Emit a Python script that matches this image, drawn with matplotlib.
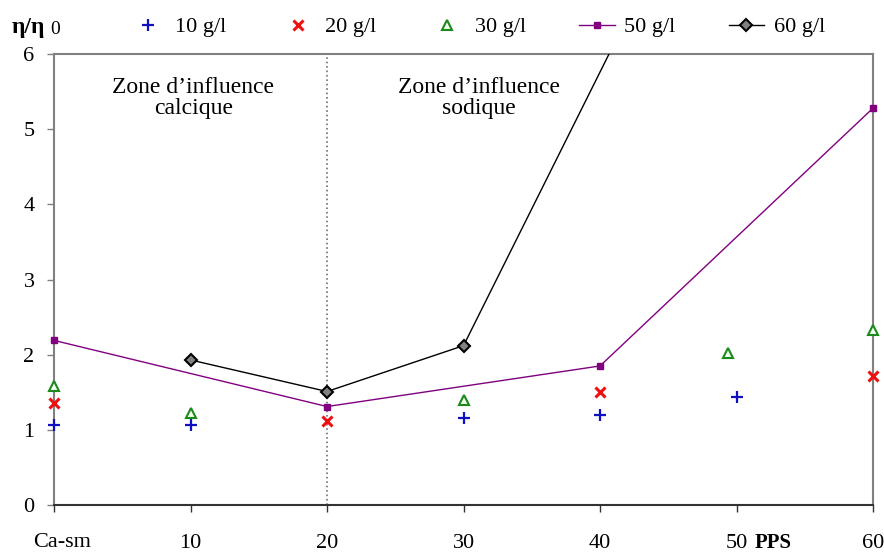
import matplotlib
matplotlib.use("Agg")
import matplotlib.pyplot as plt

plt.rcParams['font.family'] = ['Liberation Serif', 'DejaVu Serif']

# Data
x10 = [0, 10, 30, 40, 50]
y10 = [1.06, 1.07, 1.16, 1.20, 1.44]
x20 = [0, 20, 40, 60]
y20 = [1.36, 1.12, 1.51, 1.72]
x30 = [0, 10, 30, 49.4, 60]
y30 = [1.58, 1.22, 1.40, 2.02, 2.33]
x50 = [0, 20, 40, 60]
y50 = [2.19, 1.31, 1.85, 5.28]
x60 = [10, 20, 30, 50]
y60 = [1.93, 1.51, 2.12, 9.4]

xticks = [0, 10, 20, 30, 40, 50, 60]
xticklabels = ["", "10", "20", "30", "40", "50", "60"]
yticks = [0, 1, 2, 3, 4, 5, 6]

fig = plt.figure(figsize=(8.84, 5.52), dpi=100)
ax = fig.add_axes([0.0611, 0.0851, 0.9265, 0.8171])

ax.plot(x10, y10, linestyle='none', marker='+', color='#1010c0', markersize=8, markeredgewidth=1.6, label='10 g/l', clip_on=False, zorder=4)
ax.plot(x20, y20, linestyle='none', marker='x', color='#ee1111', markersize=6.5, markeredgewidth=2.2, label='20 g/l', clip_on=False, zorder=4)
ax.plot(x30, y30, linestyle='none', marker='^', markerfacecolor='#f4fff0', markeredgecolor='#1a8a1a', markersize=7.5, markeredgewidth=1.5, label='30 g/l', clip_on=False, zorder=4)
ax.plot(x50, y50, color='#800080', linewidth=1.0, marker='s', markersize=4.8, markerfacecolor='#800080', markeredgecolor='#800080', label='50 g/l', clip_on=False, zorder=3)
ax.plot(x60, y60, color='black', linewidth=1.0, marker='D', markersize=6.5, markerfacecolor='#808080', markeredgecolor='black', markeredgewidth=1.5, label='60 g/l', zorder=3)

ax.axvline(20, color='#707070', linestyle=':', linewidth=1.2, zorder=1)

ax.set_xlim(0, 60)
ax.set_ylim(0, 6)
ax.set_xticks(xticks)
ax.set_xticklabels(xticklabels)
ax.set_yticks(yticks)

for s in ['left', 'right', 'top']:
    ax.spines[s].set_color('#808080')
    ax.spines[s].set_linewidth(1.5)
ax.spines['bottom'].set_color('#333333')
ax.spines['bottom'].set_linewidth(1.5)

ax.tick_params(axis='x', direction='out', length=5, width=1, colors='#333333', pad=16, labelsize=16, labelcolor='black')
ax.tick_params(axis='y', direction='out', length=5, width=1, colors='#808080', pad=9, labelsize=16, labelcolor='black')

tr = ax.get_xaxis_transform()
ax.text(0.6, -0.061, "Ca-sm", transform=tr, ha='center', va='top', fontsize=16)
ax.text(51.35, -0.061, "PPS", transform=tr, ha='left', va='top', fontsize=15, fontweight='bold')

ax.text(10.2, 5.41, "Zone d\u2019influence\ncalcique", ha='center', va='center', fontsize=17, linespacing=1.0)
ax.text(31.1, 5.41, "Zone d\u2019influence\nsodique", ha='center', va='center', fontsize=17, linespacing=1.0)

fig.text(0.013, 0.951, "\u03b7/\u03b7", ha='left', va='center', fontsize=17, fontweight='bold')
fig.text(0.0565, 0.947, "0", ha='left', va='center', fontsize=14)

fig.legend(loc='center left', bbox_to_anchor=(0.1245, 0.951), ncol=5, frameon=False,
           fontsize=16, handlelength=1.6, handletextpad=0.43, columnspacing=2.4)

fig.savefig("out.png", dpi=100)
